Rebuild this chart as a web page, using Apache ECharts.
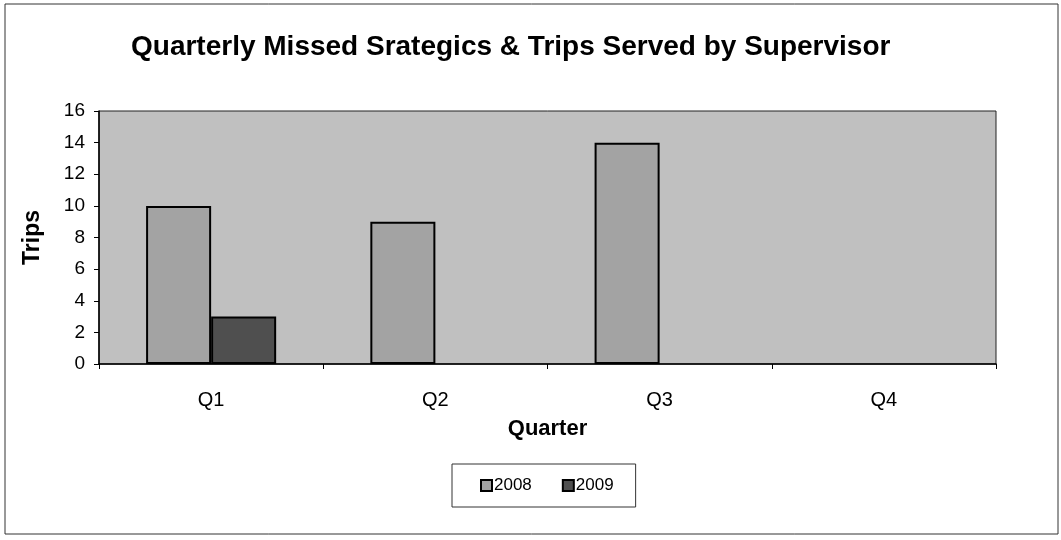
<!DOCTYPE html>
<html>
<head>
<meta charset="utf-8">
<script src="https://cdn.jsdelivr.net/npm/echarts@6/dist/echarts.min.js"></script>
<style>
  html, body { margin: 0; padding: 0; background: #fff; }
  #chart { width: 1061px; height: 540px; }
</style>
</head>
<body>
<div id="chart"></div>
<script>
// data
const quarters = ['Q1', 'Q2', 'Q3', 'Q4']
const trips2008 = [10, 9, 14, 0]
const trips2009 = [3, 0, 0, 0]
const seriesNames = ['2008', '2009']

const font = 'Arial, "Liberation Sans", sans-serif'

// zero bars are not drawn in the original, so drop their outline
const toItems = (arr) => arr.map((v) => {
  return v === 0 ? { value: v, itemStyle: { borderWidth: 0 } } : v
})

const myChart = echarts.init(document.getElementById('chart'))

const option = {
  animation: false,
  title: {
    text: 'Quarterly Missed Srategics & Trips Served by Supervisor',
    left: 126,
    top: 28,
    textStyle: {
      fontFamily: font,
      fontSize: 28,
      fontWeight: 'bold',
      color: '#000'
    }
  },
  grid: {
    left: 99,
    right: 65,
    top: 111,
    bottom: 176,
    show: true,
    backgroundColor: '#c0c0c0',
    borderColor: '#222',
    borderWidth: 1
  },
  legend: {
    data: seriesNames,
    left: 452,
    top: 464,
    padding: [13, 22, 13, 28],
    itemGap: 30,
    itemWidth: 11,
    itemHeight: 11,
    icon: 'rect',
    borderColor: '#333',
    borderWidth: 1,
    textStyle: {
      fontFamily: font,
      fontSize: 17,
      color: '#000',
      padding: [0, 0, 0, -3]
    }
  },
  xAxis: {
    type: 'category',
    data: quarters,
    name: 'Quarter',
    nameLocation: 'middle',
    nameGap: 54,
    nameTextStyle: {
      fontFamily: font,
      fontSize: 22,
      fontWeight: 'bold',
      color: '#000'
    },
    axisLine: { lineStyle: { color: '#000', width: 1.5 } },
    axisTick: { show: true, length: 5, lineStyle: { color: '#000' } },
    axisLabel: {
      fontFamily: font,
      fontSize: 20,
      color: '#000',
      margin: 26
    }
  },
  yAxis: {
    type: 'value',
    min: 0,
    max: 16,
    interval: 2,
    name: 'Trips',
    nameLocation: 'middle',
    nameGap: 55,
    nameTextStyle: {
      fontFamily: font,
      fontSize: 23,
      fontWeight: 'bold',
      color: '#000'
    },
    axisLine: { show: true, lineStyle: { color: '#000', width: 1.5 } },
    axisTick: { show: true, length: 5, lineStyle: { color: '#000' } },
    splitLine: { show: false },
    axisLabel: {
      fontFamily: font,
      fontSize: 19,
      color: '#000',
      margin: 14
    }
  },
  series: [
    {
      name: seriesNames[0],
      type: 'bar',
      data: toItems(trips2008),
      barGap: '0%',
      barCategoryGap: '42%',
      itemStyle: { color: '#a3a3a3', borderColor: '#000', borderWidth: 2 }
    },
    {
      name: seriesNames[1],
      type: 'bar',
      data: toItems(trips2009),
      itemStyle: { color: '#4f4f4f', borderColor: '#000', borderWidth: 2 }
    }
  ],
  graphic: [
    {
      type: 'rect',
      shape: { x: 5, y: 4, width: 1053, height: 530 },
      style: { fill: 'none', stroke: '#333', lineWidth: 1 },
      silent: true,
      z: -1
    }
  ]
}

myChart.setOption(option)
</script>
</body>
</html>
